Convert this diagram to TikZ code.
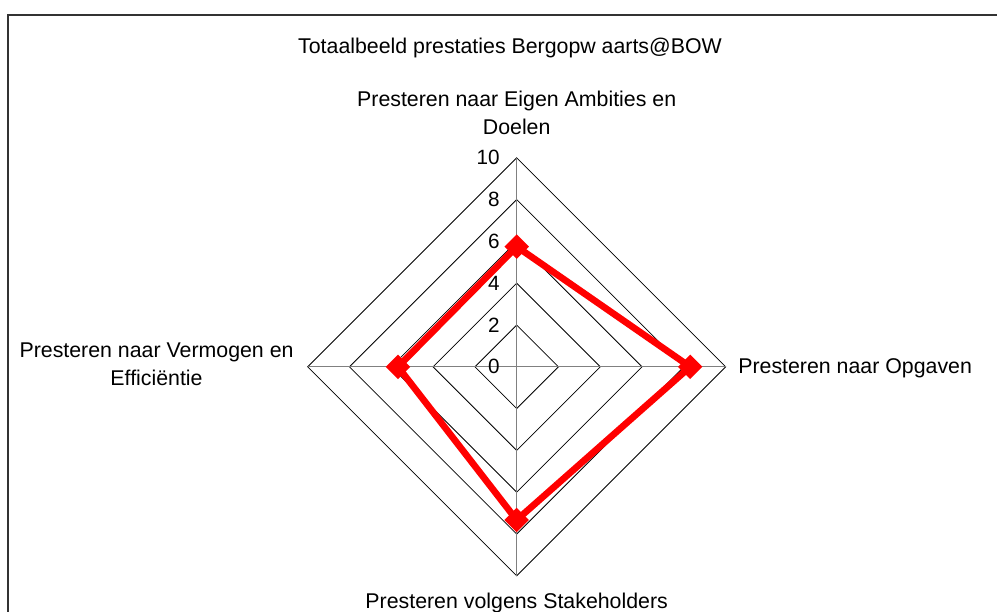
\documentclass[tikz,border=0pt]{standalone}
\usepackage{fontspec}
\setmainfont{Liberation Sans}
\usetikzlibrary{shapes.geometric}
\definecolor{framegray}{HTML}{333333}

\begin{document}
\begin{tikzpicture}[x=15.675pt,y=15.675pt,
    axislabel/.style={font=\fontsize{16}{21}\selectfont, inner sep=0pt, align=center},
    ticklabel/.style={font=\fontsize{15.5}{18}\selectfont, inner sep=0pt, anchor=east},
    ring/.style={black, line width=0.6pt},
    spoke/.style={gray, line width=0.6pt},
    serie/.style={red, line width=5pt, line join=round},
    punt/.style={diamond, fill=red, inner sep=0pt, minimum width=18.5pt, minimum height=18.5pt}]
        \useasboundingbox (-24.72,-11.69) rectangle (22.98,17.55);
        \clip (-24.72,-11.69) rectangle (22.98,17.55);
        \draw[framegray, line width=1.1pt] (-24.33,-13) rectangle (24,16.83);

        % titel
        \draw (-0.32,15.0) node[axislabel, anchor=base] (titel) {Totaalbeeld prestaties Bergopw aarts@BOW};

        % raster
        \draw[ring] (0,2) -- (2,0) -- (0,-2) -- (-2,0) -- cycle;
        \draw[ring] (0,4) -- (4,0) -- (0,-4) -- (-4,0) -- cycle;
        \draw[ring] (0,6) -- (6,0) -- (0,-6) -- (-6,0) -- cycle;
        \draw[ring] (0,8) -- (8,0) -- (0,-8) -- (-8,0) -- cycle;
        \draw[ring] (0,10) -- (10,0) -- (0,-10) -- (-10,0) -- cycle;
        \draw[spoke] (-10,0) -- (10,0);
        \draw[spoke] (0,-10) -- (0,10);

        % schaal
        \draw (-0.8,0) node[ticklabel] (t0) {0};
        \draw (-0.8,2) node[ticklabel] (t2) {2};
        \draw (-0.8,4) node[ticklabel] (t4) {4};
        \draw (-0.8,6) node[ticklabel] (t6) {6};
        \draw (-0.8,8) node[ticklabel] (t8) {8};
        \draw (-0.8,10) node[ticklabel] (t10) {10};

        % assen
        \draw (0,12.14) node[axislabel] (eigen) {Presteren naar Eigen Ambities en\\Doelen};
        \draw (10.59,-0.32) node[axislabel, anchor=base west] (opgaven) {Presteren naar Opgaven};
        \draw (0,-11.55) node[axislabel, anchor=base] (stake) {Presteren volgens Stakeholders};
        \draw (-17.23,0.10) node[axislabel] (vermogen) {Presteren naar Vermogen en\\Efficiëntie};

        % serie
        \coordinate (p1) at (0,5.75);
        \coordinate (p2) at (8.3,0);
        \coordinate (p3) at (0,-7.33);
        \coordinate (p4) at (-5.68,0);
        \draw[serie] (p1) -- (p2) -- (p3) -- (p4) -- cycle;
        \node[punt] (m1) at (p1) {};
        \node[punt] (m2) at (p2) {};
        \node[punt] (m3) at (p3) {};
        \node[punt] (m4) at (p4) {};

      \end{tikzpicture}
\end{document}
